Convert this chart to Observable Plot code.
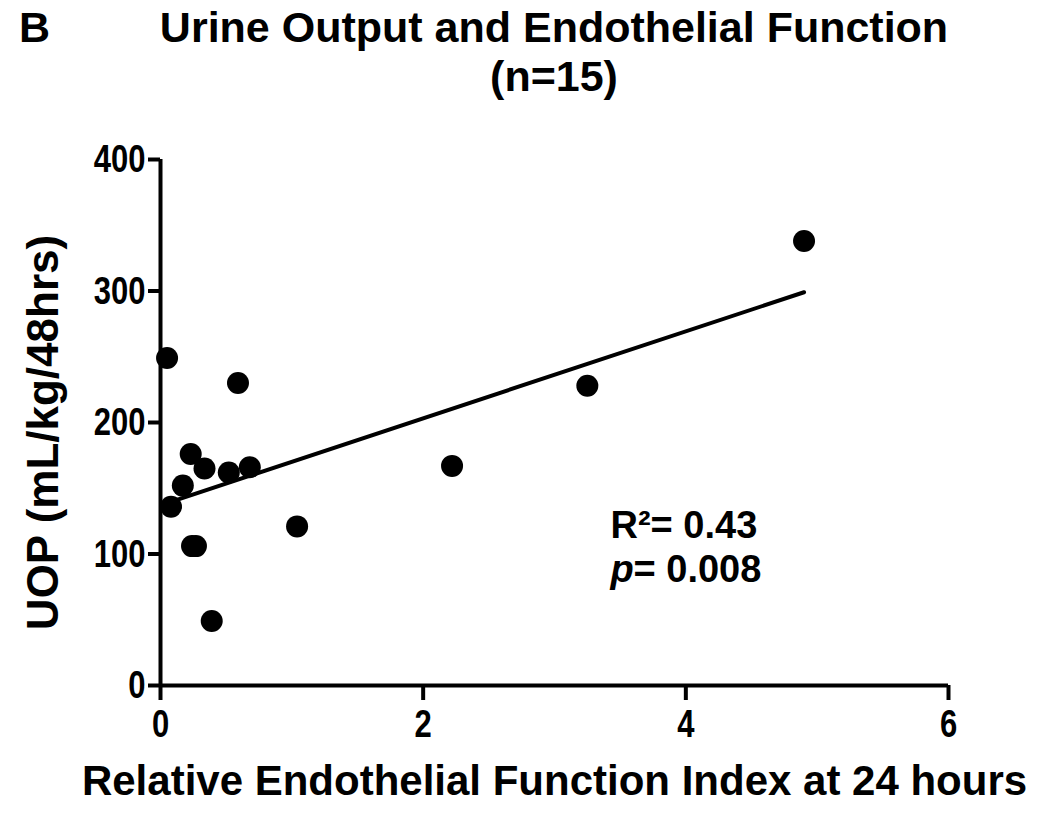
<!DOCTYPE html>
<html>
<head>
<meta charset="utf-8">
<script src="https://cdn.jsdelivr.net/npm/d3@7"></script>
<script src="https://cdn.jsdelivr.net/npm/@observablehq/plot@0.6"></script>
<style>
  html, body { margin: 0; padding: 0; background: #fff; }
  #hdr { position: relative; width: 1050px; height: 110px; font-family: "Liberation Sans", Arial, sans-serif; font-weight: bold; color: #000; }
  #hdr div { position: absolute; white-space: nowrap; line-height: 1; }
  #chart svg { display: block; }
</style>
</head>
<body>
<div id="hdr">
  <div id="panel" style="left:19px; top:6px; font-size:43px;"></div>
  <div id="title1" style="left:0; width:1108px; text-align:center; top:6px; font-size:43px;"></div>
  <div id="title2" style="left:0; width:1108px; text-align:center; top:55px; font-size:43px;"></div>
</div>
<div id="chart"></div>
<script>
// ---- data ----
const endothelialIndex = [0.05, 0.08, 0.17, 0.23, 0.24, 0.27, 0.335, 0.39, 0.52, 0.59, 0.68, 1.04, 2.22, 3.25, 4.90];
const urineOutput      = [249,  136,  152,  176,  106,  106,  165,   49,   162,  230,  166,  121,  167,  228,  338];
const xTicks = [0, 2, 4, 6];
const yTicks = [0, 100, 200, 300, 400];
const panelLabel = "B";
const titleLine1 = "Urine Output and Endothelial Function";
const titleLine2 = "(n=15)";
const xLabel = "Relative Endothelial Function Index at 24 hours";
const yLabel = "UOP (mL/kg/48hrs)";
const r2Text = "R\u00B2= 0.43";
const pSymbol = "p";
const pValue = "= 0.008";

document.getElementById("panel").textContent = panelLabel;
document.getElementById("title1").textContent = titleLine1;
document.getElementById("title2").textContent = titleLine2;

const data = endothelialIndex.map((x, i) => ({x, y: urineOutput[i]}));

const chart = Plot.plot({
  width: 1050,
  height: 704,
  marginLeft: 160,
  marginRight: 102,
  marginTop: 49,
  marginBottom: 129,
  x: {domain: [0, 6]},
  y: {domain: [0, 400]},
  style: {fontFamily: "'Liberation Sans', Arial, sans-serif", fontWeight: "bold", color: "#000", background: "#fff", overflow: "visible"},
  marks: [
    Plot.ruleX([0], {stroke: "#000", strokeWidth: 4}),
    Plot.ruleY([0], {stroke: "#000", strokeWidth: 4}),
    Plot.axisX({ticks: xTicks, tickFormat: d => String(d), tickSize: 15, tickPadding: 8, stroke: "#000", strokeWidth: 4, fontSize: 31, fontWeight: "bold", label: null}),
    Plot.axisY({ticks: yTicks, tickFormat: d => String(d), tickSize: 12, tickPadding: 3, stroke: "#000", strokeWidth: 4, fontSize: 31, fontWeight: "bold", label: null}),
    Plot.linearRegressionY(data, {x: "x", y: "y", ci: 0, stroke: "#000", strokeWidth: 4}),
    Plot.dot(data, {x: "x", y: "y", r: 11, fill: "#000", stroke: null}),
    Plot.text([xLabel], {frameAnchor: "bottom", textAnchor: "middle", lineAnchor: "middle", dy: 96, fontSize: 42, fontWeight: "bold", fill: "#000"}),
    Plot.text([yLabel], {frameAnchor: "left", textAnchor: "middle", lineAnchor: "middle", rotate: -90, dx: -117, dy: 10, fontSize: 44, fontWeight: "bold", fill: "#000"}),
    Plot.text([r2Text], {frameAnchor: "top-left", textAnchor: "start", lineAnchor: "middle", dx: 450, dy: 366, fontSize: 38, fontWeight: "bold", fill: "#000"}),
    Plot.text([pSymbol], {frameAnchor: "top-left", textAnchor: "start", lineAnchor: "middle", dx: 450, dy: 410, fontSize: 38, fontWeight: "bold", fontStyle: "italic", fill: "#000"}),
    Plot.text([pValue], {frameAnchor: "top-left", textAnchor: "start", lineAnchor: "middle", dx: 473, dy: 410, fontSize: 38, fontWeight: "bold", fill: "#000"})
  ]
});
const svgSel = d3.select(chart);
svgSel.selectAll('g[aria-label="x-axis tick"], g[aria-label="y-axis tick"]').attr("stroke-width", 4);
// the reference's tick numerals are drawn taller than they are wide
svgSel.selectAll('g[aria-label="x-axis tick label"] text, g[aria-label="y-axis tick label"] text').each(function () {
  const t = this.getAttribute("transform");
  if (t) this.setAttribute("transform", t + " scale(1,1.28)");
});
document.getElementById("chart").appendChild(chart);
</script>
</body>
</html>
